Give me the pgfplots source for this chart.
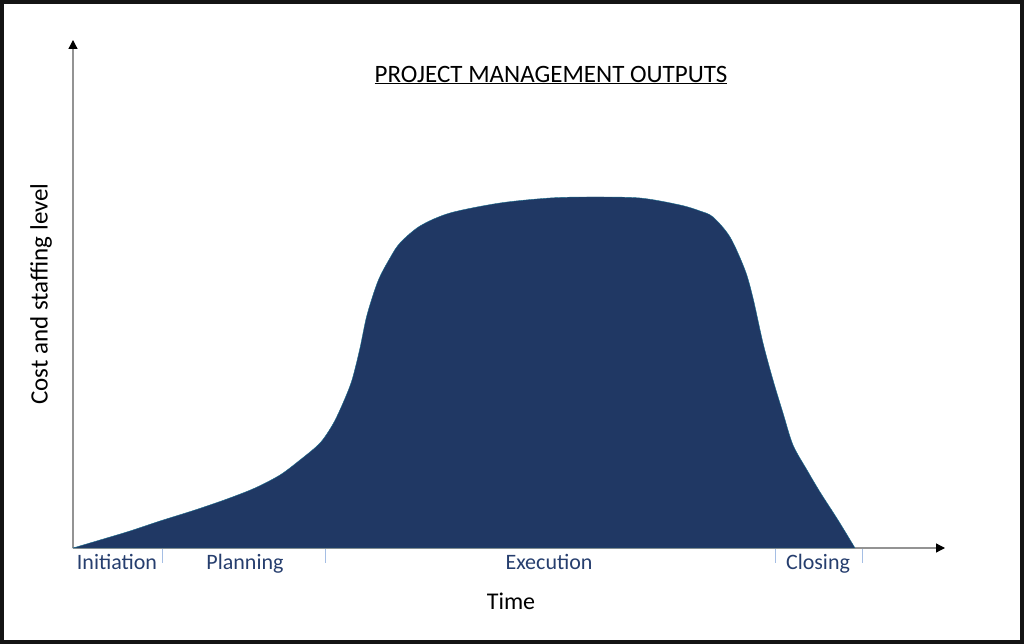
\documentclass[border=0pt]{standalone}
\usepackage{pgfplots}
\pgfplotsset{compat=1.18}
\usetikzlibrary{arrows.meta}
\usepackage{fontspec}
\setmainfont{Carlito}
\definecolor{fillc}{RGB}{32,56,100}
\definecolor{txtc}{RGB}{38,62,110}
\definecolor{tickc}{RGB}{165,190,228}
\begin{document}
\begin{tikzpicture}
\begin{axis}[
 x=1pt, y=1pt,
 xmin=73, xmax=945, ymin=0, ymax=508,
 axis lines=left,
 axis line style={draw=gray!85, line width=1.3pt, -{Triangle[black,length=9pt,width=9pt]}},
 xtick={162,325,775,862}, xticklabels={},
 ytick=\empty,
 tick align=outside,
 major tick length=15pt,
 x tick style={tickc, line width=1pt},
 clip=false,
]
\addplot[fill=fillc, draw=fillc!75!cyan, line width=0.4pt, smooth, tension=0.5] coordinates {
(73,0) (100,8) (130,17) (160,27) (195,38) (227,49) (255,60) (280,73) (300,88) (320,105) (333,124) (343,145) (352,168) (360,200) (367,233) (378,267) (390,290) (400,305) (420,322) (450,335) (500,345) (550,350) (590,351) (640,350) (680,343) (700,337) (713,331) (730,311) (745,278) (753,250) (763,205) (773,168) (783,135) (793,103) (807,78) (820,56) (838,28) (855,0)
} \closedcycle;
\node[font=\fontsize{25}{29}\selectfont] at (axis cs:551,473) {\underline{PROJECT MANAGEMENT OUTPUTS}};
\node[txtc, font=\fontsize{22}{26}\selectfont, anchor=base] at (axis cs:117,-22) {Initiation};
\node[txtc, font=\fontsize{22}{26}\selectfont, anchor=base] at (axis cs:245,-22) {Planning};
\node[txtc, font=\fontsize{22}{26}\selectfont, anchor=base] at (axis cs:549,-22) {Execution};
\node[txtc, font=\fontsize{22}{26}\selectfont, anchor=base] at (axis cs:818,-22) {Closing};
\node[font=\fontsize{24}{28}\selectfont] at (axis cs:511,-53) {Time};
\node[font=\fontsize{25}{29}\selectfont, rotate=90] at (axis cs:41,254) {Cost and staffing level};
\draw[line width=4pt, black!92] (axis cs:2,-94) rectangle (axis cs:1022,546);
\end{axis}
\end{tikzpicture}
\end{document}
